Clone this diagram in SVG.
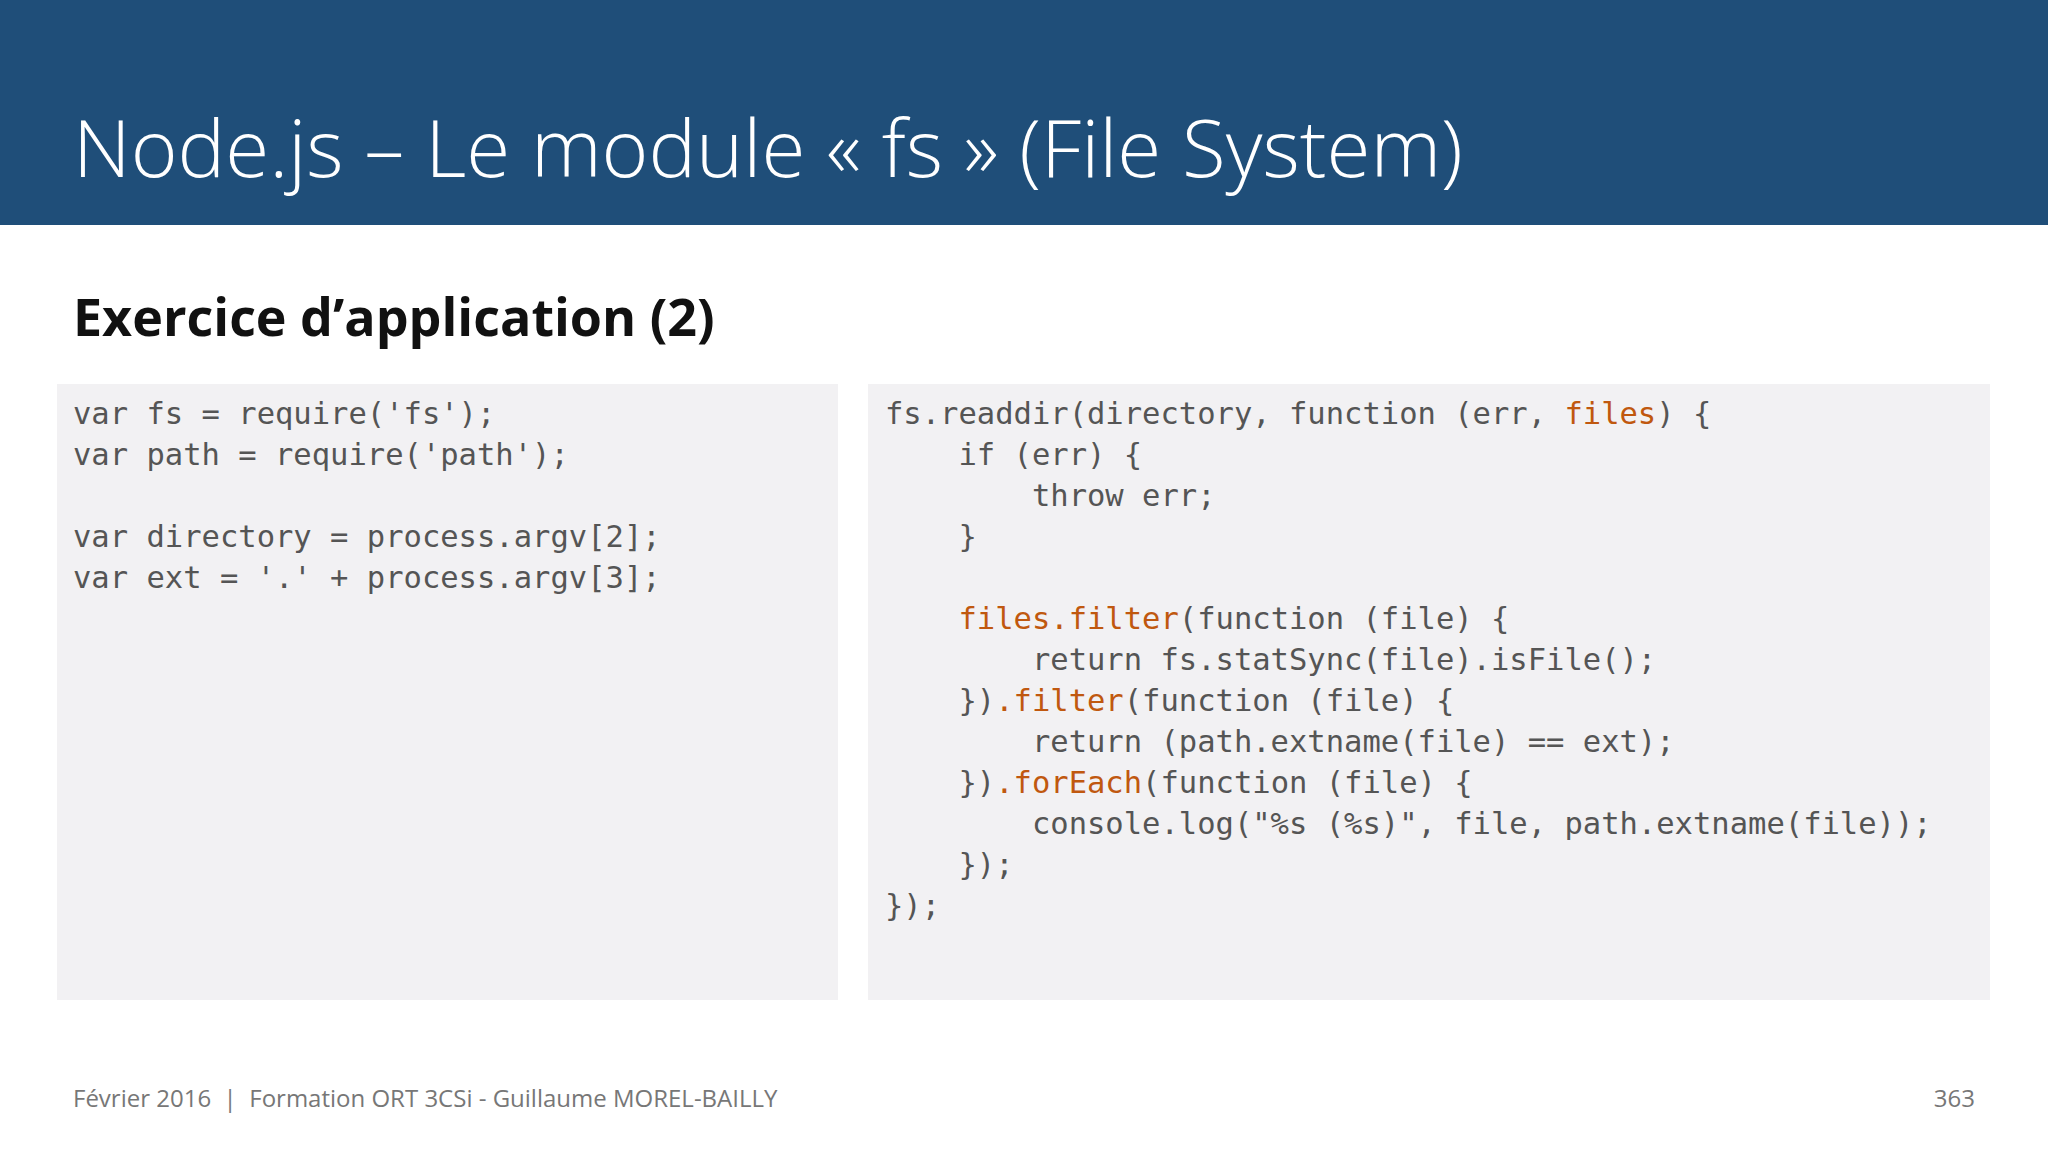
<svg xmlns="http://www.w3.org/2000/svg" width="2048" height="1152" viewBox="0 0 2048 1152">
<style>
.code{font-family:"DejaVu Sans Mono","Liberation Mono",monospace;font-size:30.5px;fill:#555}
.o{fill:#c0580f}
.ft{font-family:"Open Sans","Noto Sans",sans-serif;font-size:24px;fill:#777}
</style>
<rect width="2048" height="1152" fill="#fff"/>
<g id="header">
<rect width="2048" height="225" fill="#1f4e79"/>
<text x="73" y="177" font-family="Open Sans, Noto Sans, sans-serif" font-size="80" font-weight="300" fill="#fff">Node.js – Le module « fs » (File System)</text>
</g>
<text id="subtitle" x="73" y="336" font-family="Open Sans, Noto Sans, sans-serif" font-size="52" font-weight="bold" fill="#111">Exercice d’application (2)</text>
<g id="left-code">
<rect x="57" y="384" width="781" height="616" fill="#f2f1f3"/>
<text class="code" xml:space="preserve"><tspan x="73" y="424">var fs = require('fs');</tspan><tspan x="73" y="465">var path = require('path');</tspan><tspan x="73" y="547">var directory = process.argv[2];</tspan><tspan x="73" y="588">var ext = '.' + process.argv[3];</tspan></text>
</g>
<g id="right-code">
<rect x="868" y="384" width="1122" height="616" fill="#f2f1f3"/>
<text class="code" xml:space="preserve"><tspan x="885" y="424">fs.readdir(directory, function (err, <tspan class="o">files</tspan>) {</tspan><tspan x="885" y="465">    if (err) {</tspan><tspan x="885" y="506">        throw err;</tspan><tspan x="885" y="547">    }</tspan><tspan x="885" y="629">    <tspan class="o">files.filter</tspan>(function (file) {</tspan><tspan x="885" y="670">        return fs.statSync(file).isFile();</tspan><tspan x="885" y="711">    })<tspan class="o">.filter</tspan>(function (file) {</tspan><tspan x="885" y="752">        return (path.extname(file) == ext);</tspan><tspan x="885" y="793">    })<tspan class="o">.forEach</tspan>(function (file) {</tspan><tspan x="885" y="834">        console.log("%s (%s)", file, path.extname(file));</tspan><tspan x="885" y="875">    });</tspan><tspan x="885" y="916">});</tspan></text>
</g>
<g id="footer">
<text class="ft" x="73" y="1107" xml:space="preserve">Février 2016  |  Formation ORT 3CSi - Guillaume MOREL-BAILLY</text>
<text class="ft" x="1975" y="1107" text-anchor="end">363</text>
</g>
</svg>
